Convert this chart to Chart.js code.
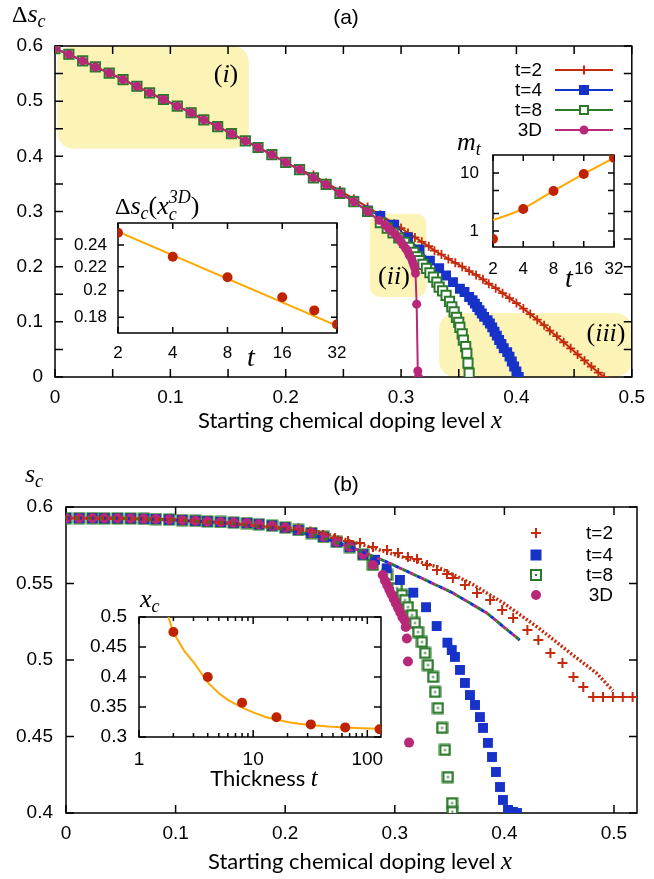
<!DOCTYPE html>
<html>
<head>
<meta charset="utf-8">
<script src="https://cdn.jsdelivr.net/npm/chart.js@4.4.1/dist/chart.umd.min.js"></script>
<style>
  html, body { margin: 0; padding: 0; background: #fff; }
  #wrap { position: relative; width: 654px; height: 879px; overflow: hidden; }
  canvas { position: absolute; }
</style>
</head>
<body>
<div id="wrap">
  <canvas id="mainA" width="654" height="440" style="left:0;top:0"></canvas>
  <canvas id="mainB" width="654" height="439" style="left:0;top:440px"></canvas>
  <canvas id="insA1" width="300" height="190" style="left:60px;top:185px"></canvas>
  <canvas id="insA2" width="200" height="175" style="left:440px;top:120px"></canvas>
  <canvas id="insB1" width="340" height="215" style="left:60px;top:580px"></canvas>
</div>
<script>
// ---- panel (a): delta s_c vs starting doping x ----
// points shared by every curve before they split apart
const aSharedX = [0, 0.012, 0.024, 0.035, 0.047, 0.059, 0.071, 0.082, 0.094, 0.106, 0.118, 0.129, 0.141, 0.153, 0.165, 0.176, 0.188, 0.200, 0.212];
const aSharedY = [0.595, 0.585, 0.573, 0.562, 0.551, 0.539, 0.527, 0.515, 0.503, 0.491, 0.479, 0.466, 0.454, 0.441, 0.428, 0.416, 0.403, 0.389, 0.376];

const aT2X = [0.224, 0.235, 0.247, 0.259, 0.271, 0.282, 0.294, 0.300, 0.306, 0.312, 0.318, 0.324, 0.329, 0.335, 0.341, 0.347, 0.353, 0.359, 0.365, 0.371, 0.376, 0.382, 0.388, 0.394, 0.400, 0.406, 0.412, 0.418, 0.424, 0.429, 0.435, 0.441, 0.447, 0.453, 0.459, 0.465, 0.471, 0.476];
const aT2Y = [0.366, 0.352, 0.338, 0.323, 0.308, 0.294, 0.278, 0.270, 0.261, 0.253, 0.245, 0.237, 0.229, 0.222, 0.214, 0.207, 0.200, 0.192, 0.185, 0.177, 0.169, 0.161, 0.152, 0.143, 0.134, 0.124, 0.114, 0.104, 0.094, 0.084, 0.074, 0.063, 0.052, 0.041, 0.030, 0.019, 0.008, 0.0];

const aT4X = [0.224, 0.235, 0.247, 0.259, 0.271, 0.282, 0.294, 0.306, 0.316, 0.325, 0.333, 0.339, 0.345, 0.351, 0.355, 0.359, 0.362, 0.364, 0.366, 0.368, 0.370, 0.372, 0.375, 0.377, 0.379, 0.381, 0.383, 0.385, 0.387, 0.389, 0.392, 0.394, 0.396, 0.398, 0.400, 0.402];
const aT4Y = [0.361, 0.349, 0.334, 0.319, 0.302, 0.292, 0.276, 0.253, 0.231, 0.211, 0.197, 0.184, 0.172, 0.160, 0.154, 0.145, 0.139, 0.133, 0.127, 0.121, 0.115, 0.109, 0.103, 0.097, 0.090, 0.082, 0.075, 0.067, 0.060, 0.052, 0.045, 0.037, 0.028, 0.019, 0.010, 0.0];

const aT8X = [0.224, 0.235, 0.247, 0.259, 0.271, 0.282, 0.288, 0.293, 0.298, 0.303, 0.307, 0.311, 0.314, 0.316, 0.319, 0.322, 0.325, 0.328, 0.331, 0.333, 0.336, 0.339, 0.342, 0.344, 0.346, 0.348, 0.350, 0.351, 0.353, 0.354, 0.356, 0.357, 0.358, 0.359];
const aT8Y = [0.361, 0.349, 0.333, 0.318, 0.300, 0.280, 0.270, 0.261, 0.252, 0.244, 0.235, 0.226, 0.218, 0.211, 0.204, 0.197, 0.189, 0.181, 0.172, 0.163, 0.156, 0.148, 0.137, 0.127, 0.118, 0.108, 0.099, 0.090, 0.078, 0.067, 0.055, 0.043, 0.025, 0.007];

const a3DX = [0.224, 0.235, 0.247, 0.259, 0.271, 0.281, 0.286, 0.289, 0.292, 0.295, 0.298, 0.300, 0.302, 0.304, 0.306, 0.307, 0.309, 0.310, 0.311, 0.312, 0.3125, 0.3135, 0.3145, 0.315];
const a3DY = [0.361, 0.349, 0.333, 0.318, 0.300, 0.284, 0.276, 0.270, 0.264, 0.258, 0.251, 0.245, 0.239, 0.233, 0.227, 0.221, 0.215, 0.209, 0.203, 0.197, 0.188, 0.132, 0.011, 0.0];

// shaded regions (i), (ii), (iii) as [x0, x1, y0, y1]
const aRegions = [[0.002, 0.168, 0.414, 0.600], [0.273, 0.322, 0.145, 0.296], [0.333, 0.500, 0.0, 0.116]];
const aRegionNames = ['i', 'ii', 'iii'];

// inset: delta s_c at x_c^3D vs t
const insA1T = [2, 4, 8, 16, 24, 32];
const insA1V = [0.252, 0.229, 0.211, 0.195, 0.185, 0.175];
const insA1FitT = [2, 32];
const insA1FitV = [0.253, 0.174];

// inset: m_t vs t
const insA2T = [2, 4, 8, 16, 32];
const insA2V = [0.73, 2.4, 4.9, 9.6, 18.2];
const insA2FitT = [2, 3, 4, 8, 16, 32];
const insA2FitV = [1.55, 1.96, 2.4, 4.9, 9.6, 18.2];

// ---- panel (b): s_c vs starting doping x ----
const bSharedX = [0, 0.012, 0.024, 0.035, 0.047, 0.059, 0.071, 0.082, 0.094, 0.106, 0.118, 0.129, 0.141, 0.153, 0.165, 0.176, 0.188, 0.200, 0.212, 0.224, 0.235, 0.247, 0.259, 0.271];
const bSharedY = [0.5927, 0.5927, 0.5927, 0.5926, 0.5926, 0.5925, 0.5923, 0.5921, 0.5918, 0.5914, 0.5910, 0.5906, 0.5902, 0.5898, 0.5895, 0.5887, 0.5878, 0.5866, 0.5850, 0.5830, 0.5805, 0.5772, 0.5738, 0.5690];

const bT2X = [0.212, 0.223, 0.2345, 0.2454, 0.2573, 0.2682, 0.2801, 0.2929, 0.3029, 0.312, 0.3203, 0.3294, 0.3385, 0.3476, 0.353, 0.364, 0.375, 0.387, 0.398, 0.408, 0.421, 0.431, 0.442, 0.453, 0.463, 0.472, 0.481, 0.490, 0.499, 0.508, 0.517];
const bT2Y = [0.5860, 0.5840, 0.5817, 0.5797, 0.5778, 0.5765, 0.5739, 0.5719, 0.5700, 0.5673, 0.5660, 0.5621, 0.5588, 0.5562, 0.5536, 0.5490, 0.5438, 0.5392, 0.5327, 0.5275, 0.5196, 0.5130, 0.5046, 0.4980, 0.4889, 0.4824, 0.4758, 0.4758, 0.4758, 0.4758, 0.4758];

const bT4X = [0.282, 0.2926, 0.3047, 0.3169, 0.3285, 0.3382, 0.3480, 0.3520, 0.3549, 0.3595, 0.3640, 0.3686, 0.3732, 0.3777, 0.3805, 0.3850, 0.3887, 0.3923, 0.3960, 0.3987, 0.4033, 0.4078, 0.4115];
const bT4Y = [0.5655, 0.5599, 0.5523, 0.5440, 0.5345, 0.5222, 0.5113, 0.5065, 0.5020, 0.4935, 0.4850, 0.4771, 0.4706, 0.4627, 0.4556, 0.4458, 0.4366, 0.4268, 0.4170, 0.4085, 0.4020, 0.4007, 0.4000];

const bT8X = [0.280, 0.2929, 0.302, 0.3066, 0.3093, 0.312, 0.3157, 0.3184, 0.3212, 0.3248, 0.3276, 0.3303, 0.3349, 0.3367, 0.3394, 0.3431, 0.3458, 0.3485, 0.3522, 0.3525];
const bT8Y = [0.5621, 0.5556, 0.5470, 0.5425, 0.5392, 0.5346, 0.5294, 0.5242, 0.5183, 0.5118, 0.5046, 0.4967, 0.4889, 0.4791, 0.4686, 0.4556, 0.4412, 0.4235, 0.4065, 0.4007];

const b3DX = [0.280, 0.289, 0.291, 0.293, 0.295, 0.297, 0.299, 0.301, 0.303, 0.305, 0.307, 0.309, 0.310, 0.311, 0.312, 0.313];
const b3DY = [0.5621, 0.5556, 0.5520, 0.5490, 0.5460, 0.5430, 0.5400, 0.5370, 0.5340, 0.5310, 0.5280, 0.5260, 0.5216, 0.5140, 0.4990, 0.4460];

// red dotted curve and the shared blue/green/magenta dashed curve
const bRedLineX = [0, 0.05, 0.1, 0.15, 0.2, 0.232, 0.277, 0.307, 0.339, 0.369, 0.399, 0.430, 0.460, 0.484, 0.499];
const bRedLineY = [0.5928, 0.5926, 0.5916, 0.5893, 0.5862, 0.5837, 0.5739, 0.5673, 0.5608, 0.5503, 0.5373, 0.5216, 0.5046, 0.4915, 0.4800];
const bDashX = [0, 0.05, 0.1, 0.15, 0.2, 0.232, 0.262, 0.293, 0.323, 0.353, 0.384, 0.414];
const bDashY = [0.5928, 0.5926, 0.5915, 0.5893, 0.5856, 0.5804, 0.5732, 0.5640, 0.5540, 0.5438, 0.5307, 0.5130];

// inset: x_c vs thickness t
const insB1T = [2, 4, 8, 16, 32, 64, 128];
const insB1V = [0.475, 0.400, 0.357, 0.333, 0.321, 0.316, 0.313];
const insB1FitT = [1.81, 2, 2.5, 3, 4, 5, 6, 8, 10, 13, 16, 20, 25, 32, 45, 64, 90, 128];
const insB1FitV = [0.500, 0.474, 0.443, 0.425, 0.391, 0.373, 0.362, 0.349, 0.341, 0.333, 0.329, 0.325, 0.322, 0.320, 0.3175, 0.3157, 0.3146, 0.3137];

const legendNames = ['t=2', 't=4', 't=8', '3D'];

// ---- styles ----
const RED = '#c62a0c', BLUE = '#1632c8', GREEN = '#2b7a2b', MAG = '#b82878';
const ORANGE = '#ffa800', DOT = '#bf2300', YELLOW = '#fcf3b6';
const SANS = '"Liberation Sans", Arial, sans-serif';
const SERIF = '"Liberation Serif", "Times New Roman", serif';
const LABEL = '22px Lato, "Open Sans", sans-serif';

Chart.defaults.font.family = SANS;
Chart.defaults.color = '#000';

const pts = (xs, ys) => xs.map((x, i) => ({ x: x, y: ys[i] }));
const fmt = v => String(+Number(v).toFixed(3));

// draw a run of mixed-font text pieces
function drawRuns(ctx, x, y, runs, align) {
    let w = 0;
    runs.forEach(r => { ctx.font = r.f; if (!r.stay) w += ctx.measureText(r.t).width; });
    let cx = align === 'center' ? x - w / 2 : (align === 'right' ? x - w : x);
    runs.forEach(r => {
        ctx.font = r.f;
        ctx.fillText(r.t, cx, y + (r.dy || 0));
        if (!r.stay) cx += ctx.measureText(r.t).width;
    });
}

function roundBox(ctx, x0, y0, x1, y1, r) {
    const l = Math.min(x0, x1), rr = Math.max(x0, x1), t = Math.min(y0, y1), b = Math.max(y0, y1);
    ctx.beginPath();
    ctx.moveTo(l + r, t);
    ctx.arcTo(rr, t, rr, b, r);
    ctx.arcTo(rr, b, l, b, r);
    ctx.arcTo(l, b, l, t, r);
    ctx.arcTo(l, t, rr, t, r);
    ctx.closePath();
    ctx.fill();
}

// legend / marker glyphs
function marker(ctx, kind, x, y, color, s) {
    ctx.save();
    ctx.strokeStyle = color;
    ctx.fillStyle = color;
    if (kind === 'plus') {
        ctx.lineWidth = 2;
        ctx.beginPath();
        ctx.moveTo(x - s, y); ctx.lineTo(x + s, y);
        ctx.moveTo(x, y - s); ctx.lineTo(x, y + s);
        ctx.stroke();
    } else if (kind === 'square') {
        ctx.fillRect(x - s, y - s, 2 * s, 2 * s);
    } else if (kind === 'open' || kind === 'dotted') {
        ctx.fillStyle = '#fff';
        ctx.fillRect(x - s, y - s, 2 * s, 2 * s);
        ctx.lineWidth = 2;
        ctx.strokeRect(x - s, y - s, 2 * s, 2 * s);
        if (kind === 'dotted') { ctx.fillStyle = color; ctx.fillRect(x - 1, y - 1, 2, 2); }
    } else {
        ctx.beginPath();
        ctx.arc(x, y, s, 0, Math.PI * 2);
        ctx.fill();
    }
    ctx.restore();
}

// open square with a centre dot, used as the t=8 point style in (b)
const dottedSquare = (() => {
    const c = document.createElement('canvas');
    c.width = 13; c.height = 13;
    const g = c.getContext('2d');
    g.fillStyle = '#fff';
    g.fillRect(1, 1, 11, 11);
    g.strokeStyle = GREEN;
    g.lineWidth = 2.4;
    g.strokeRect(1.7, 1.7, 9.6, 9.6);
    g.fillStyle = GREEN;
    g.fillRect(5.5, 5.5, 2, 2);
    return c;
})();

// box round the plot area with inward ticks on all four sides
function makeFrame(o) {
    return {
        id: 'frame',
        beforeDatasetsDraw(chart) {
            const ctx = chart.ctx, a = chart.chartArea, xs = chart.scales.x, ys = chart.scales.y;
            ctx.save();
            ctx.strokeStyle = '#000';
            ctx.lineWidth = 1.5;
            ctx.beginPath();
            const tx = (v, len) => {
                const p = xs.getPixelForValue(v);
                ctx.moveTo(p, a.bottom); ctx.lineTo(p, a.bottom - len);
                ctx.moveTo(p, a.top); ctx.lineTo(p, a.top + len);
            };
            const ty = (v, len) => {
                const p = ys.getPixelForValue(v);
                ctx.moveTo(a.left, p); ctx.lineTo(a.left + len, p);
                ctx.moveTo(a.right, p); ctx.lineTo(a.right - len, p);
            };
            (o.x || []).forEach(v => tx(v, o.len));
            (o.xMinor || []).forEach(v => tx(v, o.minor));
            (o.y || []).forEach(v => ty(v, o.len));
            (o.yMinor || []).forEach(v => ty(v, o.minor));
            ctx.stroke();
            ctx.strokeRect(a.left, a.top, a.right - a.left, a.bottom - a.top);
            ctx.restore();
        }
    };
}

function baseOptions(pad, xOpts, yOpts) {
    const plain = { display: false, drawTicks: false };
    return {
        responsive: false,
        animation: false,
        events: [],
        layout: { padding: { top: pad.top, right: pad.right, left: 0, bottom: 0 } },
        plugins: { legend: { display: false }, tooltip: { enabled: false } },
        scales: {
            x: Object.assign({ grid: plain, border: { display: false },
                afterFit: s => { s.height = pad.xh; } }, xOpts),
            y: Object.assign({ grid: plain, border: { display: false },
                afterFit: s => { s.width = pad.yw; } }, yOpts)
        }
    };
}

const tickFont = size => ({ size: size, family: SANS });
const forceTicks = vals => (s => { s.ticks = vals.map(v => ({ value: v })); });

// ================= panel (a) =================
const decoA = {
    id: 'decoA',
    beforeDraw(chart) {
        const ctx = chart.ctx, x = chart.scales.x, y = chart.scales.y;
        ctx.save();
        ctx.fillStyle = YELLOW;
        aRegions.forEach((r, i) => roundBox(ctx, x.getPixelForValue(r[0]), y.getPixelForValue(r[3]),
            x.getPixelForValue(r[1]), y.getPixelForValue(r[2]), i === 1 ? 10 : 16));
        ctx.restore();
    },
    afterDraw(chart) {
        const ctx = chart.ctx;
        ctx.save();
        ctx.fillStyle = '#000';
        ctx.textBaseline = 'alphabetic';
        drawRuns(ctx, 346, 24, [{ t: '(a)', f: '21px ' + SANS }], 'center');
        drawRuns(ctx, 12, 22, [{ t: 'Δ', f: '24px ' + SERIF }, { t: 's', f: 'italic 26px ' + SERIF },
            { t: 'c', f: 'italic 18px ' + SERIF, dy: 5 }]);
        drawRuns(ctx, 350, 428, [{ t: 'Starting chemical doping level ', f: LABEL },
            { t: 'x', f: 'italic 25px ' + SERIF }], 'center');
        const labelPos = [[226, 82], [394, 284], [606, 341]];
        aRegionNames.forEach((n, i) => drawRuns(ctx, labelPos[i][0], labelPos[i][1],
            [{ t: '(', f: '26px ' + SERIF }, { t: n, f: 'italic 26px ' + SERIF }, { t: ')', f: '26px ' + SERIF }], 'center'));
        // legend: text on the left, line sample with marker on the right
        const colors = [RED, BLUE, GREEN, MAG];
        const kinds = ['plus', 'square', 'open', 'circle'];
        const sizes = [4.5, 5, 4, 4.5];
        legendNames.forEach((name, i) => {
            const yy = 70 + i * 20;
            ctx.font = '19px ' + SANS;
            ctx.textAlign = 'right';
            ctx.textBaseline = 'middle';
            ctx.fillStyle = '#000';
            ctx.fillText(name, 542, yy + 1);
            ctx.strokeStyle = colors[i];
            ctx.lineWidth = 2;
            ctx.beginPath(); ctx.moveTo(555, yy); ctx.lineTo(613, yy); ctx.stroke();
            marker(ctx, kinds[i], 584, yy, colors[i], sizes[i]);
        });
        ctx.restore();
    }
};

const tenths = [0, 0.05, 0.1, 0.15, 0.2, 0.25, 0.3, 0.35, 0.4, 0.45, 0.5, 0.55, 0.6];

new Chart(document.getElementById('mainA'), {
    type: 'scatter',
    data: {
        datasets: [
            { label: legendNames[0], data: pts(aSharedX.concat(aT2X), aSharedY.concat(aT2Y)), showLine: true,
              borderColor: RED, borderWidth: 2, pointStyle: 'cross', pointRadius: 4.5,
              pointBorderColor: RED, pointBorderWidth: 1.8, order: 4 },
            { label: legendNames[1], data: pts(aSharedX.concat(aT4X), aSharedY.concat(aT4Y)), showLine: true,
              borderColor: BLUE, borderWidth: 1.3, pointStyle: 'rect', pointRadius: 7,
              pointBackgroundColor: BLUE, pointBorderWidth: 0, order: 3 },
            { label: legendNames[2], data: pts(aSharedX.concat(aT8X), aSharedY.concat(aT8Y)), showLine: true,
              borderColor: GREEN, borderWidth: 1.5, pointStyle: 'rect', pointRadius: 6.5,
              pointBackgroundColor: '#fff', pointBorderColor: GREEN, pointBorderWidth: 2, order: 2 },
            { label: legendNames[3], data: pts(aSharedX.concat(a3DX), aSharedY.concat(a3DY)), showLine: true,
              borderColor: MAG, borderWidth: 2, pointStyle: 'circle', pointRadius: 4.5,
              pointBackgroundColor: MAG, pointBorderWidth: 0, order: 1 }
        ]
    },
    options: baseOptions({ top: 46, right: 17, xh: 63, yw: 55 },
        { type: 'linear', min: 0, max: 0.5, ticks: { stepSize: 0.1, padding: 9, font: tickFont(19), callback: fmt } },
        { type: 'linear', min: 0, max: 0.6, ticks: { stepSize: 0.1, padding: 12, font: tickFont(19), callback: fmt } }),
    plugins: [decoA, makeFrame({ x: tenths.slice(0, 11), y: tenths, len: 8 })]
});

// inset: delta s_c(x_c^3D)
new Chart(document.getElementById('insA1'), {
    type: 'scatter',
    data: {
        datasets: [
            { data: pts(insA1FitT, insA1FitV), showLine: true, borderColor: ORANGE, borderWidth: 2, pointRadius: 0, order: 2 },
            { data: pts(insA1T, insA1V), pointRadius: 5, pointBackgroundColor: DOT, pointBorderWidth: 0, order: 1 }
        ]
    },
    options: baseOptions({ top: 38, right: 23, xh: 42, yw: 58 },
        { type: 'logarithmic', min: 2, max: 32, afterBuildTicks: forceTicks([2, 4, 8, 16, 32]),
          ticks: { padding: 10, font: tickFont(17), callback: fmt } },
        { type: 'logarithmic', min: 0.1691, max: 0.2619, afterBuildTicks: forceTicks([0.18, 0.2, 0.22, 0.24]),
          ticks: { padding: 11, font: tickFont(17), callback: fmt } }),
    plugins: [makeFrame({ x: [2, 4, 8, 16, 32], y: [0.18, 0.2, 0.22, 0.24], len: 6 }), {
        id: 'labA1',
        afterDraw(chart) {
            const ctx = chart.ctx;
            ctx.save();
            ctx.fillStyle = '#000';
            const it = 'italic 26px ' + SERIF, sub = 'italic 18px ' + SERIF;
            drawRuns(ctx, 55, 29, [{ t: 'Δ', f: '24px ' + SERIF }, { t: 's', f: it }, { t: 'c', f: sub, dy: 5 },
                { t: '(', f: '26px ' + SERIF }, { t: 'x', f: it }, { t: 'c', f: sub, dy: 6, stay: true },
                { t: '3D', f: sub, dy: -11 }, { t: ')', f: '26px ' + SERIF }]);
            drawRuns(ctx, 187, 181, [{ t: 't', f: 'italic 28px ' + SERIF }]);
            ctx.restore();
        }
    }]
});

// inset: m_t
new Chart(document.getElementById('insA2'), {
    type: 'scatter',
    data: {
        datasets: [
            { data: pts(insA2FitT, insA2FitV), showLine: true, borderColor: ORANGE, borderWidth: 2, pointRadius: 0, order: 2 },
            { data: pts(insA2T, insA2V), pointRadius: 5, pointBackgroundColor: DOT, pointBorderWidth: 0, order: 1 }
        ]
    },
    options: baseOptions({ top: 35, right: 26, xh: 48, yw: 53 },
        { type: 'logarithmic', min: 2, max: 32, afterBuildTicks: forceTicks([2, 4, 8, 16, 32]),
          ticks: { padding: 12, font: tickFont(17), callback: fmt } },
        { type: 'logarithmic', min: 0.53, max: 20.4, afterBuildTicks: forceTicks([1, 10]),
          ticks: { padding: 14, font: tickFont(17), callback: fmt } }),
    plugins: [makeFrame({ x: [2, 4, 8, 16, 32], y: [1, 2, 5, 10], len: 6 }), {
        id: 'labA2',
        afterDraw(chart) {
            const ctx = chart.ctx;
            ctx.save();
            ctx.fillStyle = '#000';
            drawRuns(ctx, 17, 30, [{ t: 'm', f: 'italic 26px ' + SERIF }, { t: 't', f: 'italic 18px ' + SERIF, dy: 5 }]);
            drawRuns(ctx, 125, 167, [{ t: 't', f: 'italic 28px ' + SERIF }]);
            ctx.restore();
        }
    }]
});

// ================= panel (b) =================
const decoB = {
    id: 'decoB',
    afterDraw(chart) {
        const ctx = chart.ctx;
        ctx.save();
        ctx.fillStyle = '#000';
        ctx.textBaseline = 'alphabetic';
        drawRuns(ctx, 346, 51, [{ t: '(b)', f: '21px ' + SANS }], 'center');
        drawRuns(ctx, 25, 42, [{ t: 's', f: 'italic 26px ' + SERIF }, { t: 'c', f: 'italic 18px ' + SERIF, dy: 5 }]);
        drawRuns(ctx, 360, 429, [{ t: 'Starting chemical doping level ', f: LABEL },
            { t: 'x', f: 'italic 25px ' + SERIF }], 'center');
        const colors = [RED, BLUE, GREEN, MAG];
        const kinds = ['plus', 'square', 'dotted', 'circle'];
        const sizes = [5, 5.5, 5, 5];
        const rows = [93, 115, 135, 155];
        legendNames.forEach((name, i) => {
            marker(ctx, kinds[i], 536, rows[i], colors[i], sizes[i]);
            ctx.font = '19px ' + SANS;
            ctx.textAlign = 'right';
            ctx.textBaseline = 'middle';
            ctx.fillStyle = '#000';
            ctx.fillText(name, 613, rows[i] + 1);
        });
        ctx.restore();
    }
};

const dashed = (color, offset) => ({
    data: pts(bDashX, bDashY), showLine: true, borderColor: color, borderWidth: 3,
    borderDash: [4, 8], borderDashOffset: offset, pointRadius: 0, order: 0
});

new Chart(document.getElementById('mainB'), {
    type: 'scatter',
    data: {
        datasets: [
            { data: pts(bRedLineX, bRedLineY), showLine: true, borderColor: RED, borderWidth: 3.5,
              borderDash: [2, 2], pointRadius: 0, order: 0 },
            dashed(BLUE, 0), dashed(GREEN, 4), dashed(MAG, 8),
            { data: pts(bSharedX.slice(0, 18).concat(bT2X), bSharedY.slice(0, 18).concat(bT2Y)),
              pointStyle: 'cross', pointRadius: 5, pointBorderColor: RED, pointBorderWidth: 2, order: 2 },
            { data: pts(bSharedX.concat(bT4X), bSharedY.concat(bT4Y)),
              pointStyle: 'rect', pointRadius: 7, pointBackgroundColor: BLUE, pointBorderWidth: 0, order: 3 },
            { data: pts(bSharedX.concat(bT8X), bSharedY.concat(bT8Y)),
              pointStyle: dottedSquare, pointRadius: 6, order: 4 },
            { data: pts(bSharedX.concat(b3DX), bSharedY.concat(b3DY)),
              pointStyle: 'circle', pointRadius: 5, pointBackgroundColor: MAG, pointBorderWidth: 0, order: 1 }
        ]
    },
    options: baseOptions({ top: 67, right: 17, xh: 66, yw: 66 },
        { type: 'linear', min: 0, max: 0.521, afterBuildTicks: forceTicks([0, 0.1, 0.2, 0.3, 0.4, 0.5]),
          ticks: { padding: 9, font: tickFont(19), callback: fmt } },
        { type: 'linear', min: 0.4, max: 0.6, ticks: { stepSize: 0.05, padding: 13, font: tickFont(19), callback: fmt } }),
    plugins: [decoB, makeFrame({ x: [0, 0.1, 0.2, 0.3, 0.4, 0.5], y: [0.4, 0.45, 0.5, 0.55, 0.6], len: 8 })]
});

// inset: x_c vs thickness
new Chart(document.getElementById('insB1'), {
    type: 'scatter',
    data: {
        datasets: [
            { data: pts(insB1FitT, insB1FitV), showLine: true, borderColor: ORANGE, borderWidth: 2, pointRadius: 0, order: 2 },
            { data: pts(insB1T, insB1V), pointRadius: 5, pointBackgroundColor: DOT, pointBorderWidth: 0, order: 1 }
        ]
    },
    options: baseOptions({ top: 37, right: 19, xh: 58, yw: 79 },
        { type: 'logarithmic', min: 1, max: 131.8, afterBuildTicks: forceTicks([1, 10, 100]),
          ticks: { padding: 11, font: tickFont(19), callback: fmt } },
        { type: 'linear', min: 0.3, max: 0.5, ticks: { stepSize: 0.05, padding: 12, font: tickFont(19), callback: fmt } }),
    plugins: [makeFrame({ x: [1, 10, 100], xMinor: [2, 3, 4, 5, 6, 7, 8, 9, 20, 30, 40, 50, 60, 70, 80, 90],
        y: [0.3, 0.35, 0.4, 0.45, 0.5], len: 7, minor: 4 }), {
        id: 'labB1',
        afterDraw(chart) {
            const ctx = chart.ctx;
            ctx.save();
            ctx.fillStyle = '#000';
            drawRuns(ctx, 80, 27, [{ t: 'x', f: 'italic 26px ' + SERIF }, { t: 'c', f: 'italic 18px ' + SERIF, dy: 5 }]);
            drawRuns(ctx, 204, 206, [{ t: 'Thickness ', f: LABEL }, { t: 't', f: 'italic 25px ' + SERIF }], 'center');
            ctx.restore();
        }
    }]
});
</script>
</body>
</html>
